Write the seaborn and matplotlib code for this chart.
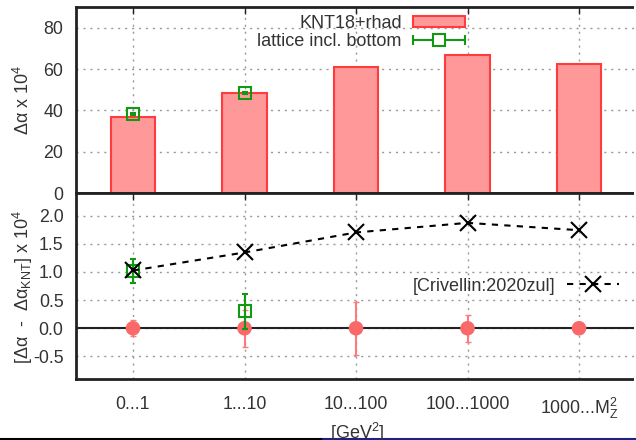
import numpy as np
import pandas as pd
import matplotlib
matplotlib.use("Agg")
import matplotlib.pyplot as plt
import seaborn as sns
from matplotlib.lines import Line2D
from matplotlib.patches import Patch, Rectangle
from matplotlib.legend_handler import HandlerBase

# ---- data -----------------------------------------------------------------
bins = ["0...1", "1...10", "10...100", "100...1000", "1000...M$_Z^2$"]

# KNT18 contribution per energy bin [x 1e-4]
knt_vals = [37.0, 48.3, 61.2, 66.9, 62.5]
# lattice (incl. bottom) per bin, first two bins only [x 1e-4]
lat_vals = [38.1, 48.5]
lat_errs = [0.4, 0.5]

# differences with respect to KNT18 [x 1e-4]
knt_diff = [0.0, 0.0, 0.0, 0.0, 0.0]
knt_diff_err = [0.14, 0.33, 0.47, 0.235, 0.03]
lat_diff = [1.02, 0.30]
lat_diff_err = [0.21, 0.31]
criv_diff = [1.025, 1.345, 1.70, 1.87, 1.74]

# ---- styling ----------------------------------------------------------------
sns.set_theme(style="white")
plt.rcParams["font.family"] = ["Liberation Sans", "DejaVu Sans"]
plt.rcParams["mathtext.fontset"] = "custom"
plt.rcParams["mathtext.rm"] = "Liberation Sans"
plt.rcParams["mathtext.it"] = "Liberation Sans"
plt.rcParams["font.size"] = 12.5

BAR_FILL = "#ff9999"
BAR_EDGE = "#ff3b3b"
DOT = "#f86a6a"
DOT_ERR = "#ff7b7b"
GREEN = "#119911"
TXT = "#333333"
TICK_FS = 12.8
LEG_FS = 13

W, H = 636, 440
fig = plt.figure(figsize=(W / 100, H / 100), dpi=100)

# horizontal layout in pixels: first tick at 133, tick spacing 111.5,
# the frame runs past the right edge of the canvas
px_left, px_right = 76, 690
px_first, px_step = 133, 111.5
xmin = (px_left - px_first) / px_step
xmax = (px_right - px_first) / px_step

left = px_left / W
width = (px_right - px_left) / W
ax_top = fig.add_axes([left, (H - 193) / H, width, 186 / H])
ax_bot = fig.add_axes([left, (H - 379) / H, width, 186 / H])

x = np.arange(len(bins))
df = pd.DataFrame({"bin": bins, "x": x, "knt": knt_vals,
                   "diff": knt_diff, "criv": criv_diff})


def style_axes(ax):
    for s in ax.spines.values():
        s.set_linewidth(2.0)
        s.set_color("#222222")
    ax.spines["right"].set_visible(False)
    ax.grid(True, which="major", color="#999999", linestyle=(0, (1.5, 3.5)),
            linewidth=1.0)
    ax.set_axisbelow(True)
    ax.tick_params(axis="both", direction="in", length=5, width=1.0,
                   colors="#222222", labelcolor=TXT, labelsize=TICK_FS,
                   top=True, right=False)
    ax.tick_params(axis="y", pad=9)
    ax.set_xlim(xmin, xmax)


# ---- top panel: absolute contributions ------------------------------------
sns.barplot(data=df, x="x", y="knt", width=0.4, color=BAR_FILL,
            edgecolor=BAR_EDGE, linewidth=1.5, saturation=1, ax=ax_top,
            native_scale=True)
ax_top.errorbar(x[:len(lat_vals)], lat_vals, yerr=lat_errs, fmt="s",
                mfc="none", mec=GREEN, mew=1.5, ms=8.5, color=GREEN,
                elinewidth=1.5, capsize=2, zorder=5)
style_axes(ax_top)
ax_top.set_ylim(0, 90)
ax_top.set_yticks([0, 20, 40, 60, 80])
ax_top.set_xticks(x)
ax_top.set_xticklabels([])
ax_top.set_xlabel("")
ax_top.set_ylabel("")


class HErrHandler(HandlerBase):
    def create_artists(self, legend, orig_handle, xdescent, ydescent,
                       width, height, fontsize, trans):
        y = height / 2 - ydescent
        x0, x1 = -xdescent, width - xdescent
        ln = Line2D([x0, x1], [y, y], color=GREEN, lw=1.5)
        caps = Line2D([x0, x1], [y, y], color=GREEN, ls="none",
                      marker="|", ms=7, mew=1.5)
        sq = Line2D([(x0 + x1) / 2], [y], ls="none", marker="s", ms=9,
                    mfc="white", mec=GREEN, mew=1.5)
        for a in (ln, caps, sq):
            a.set_transform(trans)
        return [ln, caps, sq]


h_bar = Patch(facecolor=BAR_FILL, edgecolor=BAR_EDGE, linewidth=1.5)
h_lat = object()
ax_top.legend([h_bar, h_lat], ["KNT18+rhad", "lattice incl. bottom"],
              handler_map={object: HErrHandler()},
              loc="upper right", bbox_to_anchor=(465 / W, 1 - 15 / H),
              bbox_transform=fig.transFigure,
              markerfirst=False, frameon=False, fontsize=LEG_FS,
              handlelength=2.9, handleheight=0.6, handletextpad=0.6,
              labelspacing=0.05, labelcolor=TXT, borderaxespad=0,
              borderpad=0)

# ---- bottom panel: differences ---------------------------------------------
ax_bot.axhline(0, color="#222222", lw=1.5, zorder=1)
ax_bot.errorbar(x, knt_diff, yerr=knt_diff_err, fmt="none", ecolor=DOT_ERR,
                elinewidth=1.5, capsize=2.5, zorder=3)
sns.scatterplot(data=df, x="x", y="diff", color=DOT, s=110,
                edgecolor="none", ax=ax_bot, zorder=4, legend=False)
sns.lineplot(data=df, x="x", y="criv", color="black", lw=1.5,
             linestyle=(0, (3, 3)), marker="x", markersize=12, mew=1.5,
             mec="black", ax=ax_bot, zorder=6, legend=False)
ax_bot.errorbar(x[:len(lat_diff)], lat_diff, yerr=lat_diff_err, fmt="s",
                mfc="none", mec=GREEN, mew=1.5, ms=9, color=GREEN,
                elinewidth=1.5, capsize=2.5, zorder=5)
style_axes(ax_bot)
ax_bot.set_ylim(-0.9, 2.4)
ax_bot.set_yticks([-0.5, 0.0, 0.5, 1.0, 1.5, 2.0])
ax_bot.set_yticklabels(["-0.5", "0.0", "0.5", "1.0", "1.5", "2.0"])
ax_bot.set_xticks(x)
ax_bot.set_xticklabels(bins)
ax_bot.tick_params(axis="x", pad=12)
ax_bot.set_xlabel("")
ax_bot.set_ylabel("")

h_criv = Line2D([], [], color="black", lw=1.5, linestyle=(0, (3, 3)),
                marker="x", ms=12, mew=1.5)
ax_bot.legend([h_criv], ["[Crivellin:2020zul]"], loc="center right",
              bbox_to_anchor=(619 / W, 1 - 286 / H),
              bbox_transform=fig.transFigure, markerfirst=False,
              frameon=False, fontsize=LEG_FS, handlelength=2.9,
              handletextpad=0.6, labelcolor=TXT, borderaxespad=0,
              borderpad=0)

# ---- axis titles -----------------------------------------------------------
fig.text(23 / W, 1 - 100 / H, r"$\Delta\alpha$ x 10$^4$", rotation=90,
         ha="center", va="center", color=TXT, fontsize=LEG_FS)
fig.text(23 / W, 1 - 287 / H,
         r"[$\Delta\alpha$  -  $\Delta\alpha_{\rm KNT}$] x 10$^4$",
         rotation=90, ha="center", va="center", color=TXT, fontsize=LEG_FS)
fig.text(357 / W, 1 - 421 / H, r"[GeV$^2$]", ha="center", va="top",
         color=TXT, fontsize=LEG_FS)

# keep the open right side of the frame clean at the canvas edge
fig.add_artist(Rectangle((633.5 / W, 1 - 385 / H), 4 / W, 380 / H,
                         facecolor="white", edgecolor="none",
                         transform=fig.transFigure, zorder=50))

# page rules along the lower edge
fig.add_artist(Line2D([0, 323 / W], [1.5 / H, 1.5 / H], color="black",
                      lw=1.5, transform=fig.transFigure))
fig.add_artist(Line2D([323 / W, 1], [1.5 / H, 1.5 / H], color="#202080",
                      lw=1.5, transform=fig.transFigure))

fig.savefig("out.png", dpi=100)
